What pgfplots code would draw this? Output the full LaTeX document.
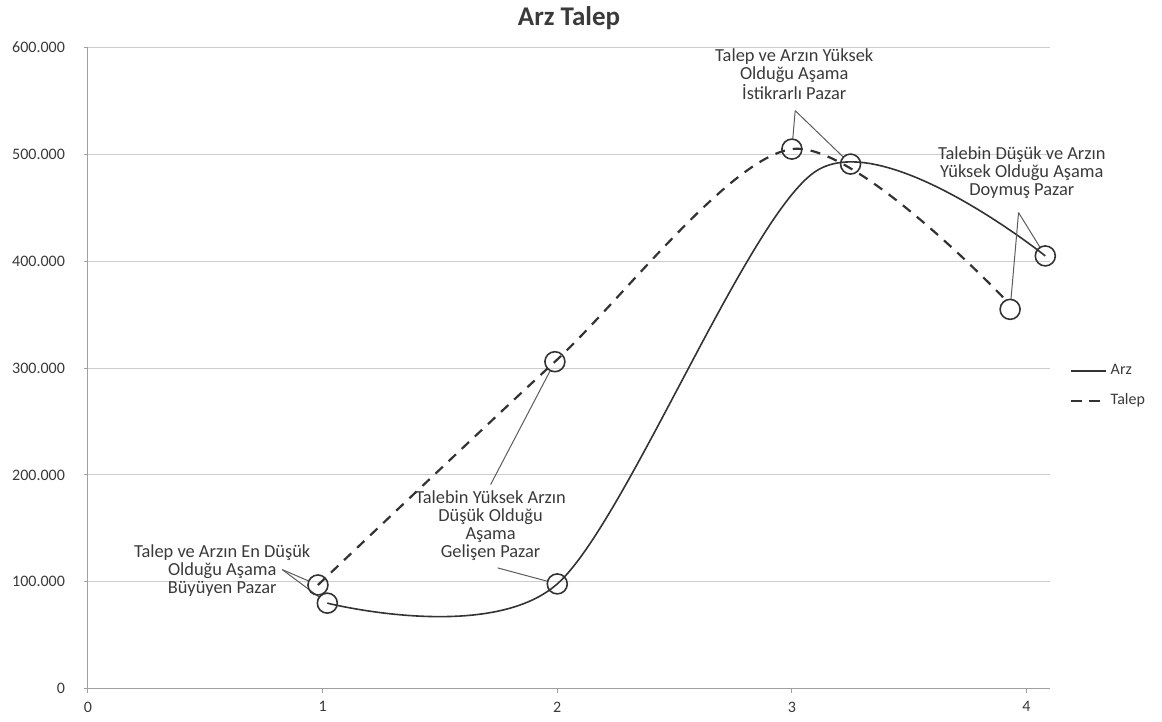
\documentclass[border=0pt]{standalone}
\usepackage{pgfplots}
\pgfplotsset{compat=1.18}
\usepackage{pgfplotstable}
\usepackage{fontspec}
\setmainfont{Carlito}
\definecolor{txt}{HTML}{3A3A3A}
\definecolor{gridc}{HTML}{CDCDCD}
\definecolor{axc}{HTML}{A0A0A0}
\definecolor{ln}{HTML}{333333}

% series lines
\pgfplotstableread{
x y
1.02 80000
2.00 98000
3.10 484000
4.08 405000
}\arz
\pgfplotstableread{
x y
0.98 97000
1.99 306000
3.00 505000
3.91 364000
}\talep
% annotation circles
\pgfplotstableread{
x y
1.02 80000
2.00 98000
3.25 491000
4.08 405000
}\arzcirc
\pgfplotstableread{
x y
0.98 97000
1.99 306000
3.00 505000
3.93 355000
}\talepcirc

\begin{document}
\begin{tikzpicture}
\begin{axis}[
  width=481pt, height=320.5pt, scale only axis,
  xmin=0, xmax=4.1, ymin=0, ymax=600000,
  xtick={0,1,2,3,4},
  ytick={0,100000,200000,300000,400000,500000,600000},
  scaled y ticks=false,
  /pgf/number format/.cd, fixed, 1000 sep={.}, assume math mode=true, /pgfplots/.cd,
  ymajorgrids, grid style={gridc, line width=0.5pt},
  axis line style={draw=none},
  xtick pos=bottom, ytick pos=left, tick align=outside,
  major tick length=2pt, major tick style={axc, line width=0.5pt},
  tick label style={font=\fontsize{8}{9.6}\selectfont, text=txt},
  yticklabel style={xshift=-6pt},
  xticklabel style={yshift=-1pt},
  clip=false,
  legend style={at={(rel axis cs:1,0.472)}, anchor=west, xshift=7pt, draw=none, fill=none,
    font=\fontsize{8}{9}\selectfont, text=txt, row sep=4pt},
  legend cell align=left,
]
\coordinate (bl) at (rel axis cs:0,0);
\draw[axc, line width=0.5pt] (rel axis cs:0,0) -- (rel axis cs:0,1);
\draw[axc, line width=0.5pt] (rel axis cs:0,0) -- (rel axis cs:1,0);

\addplot[ln, line width=0.8pt, smooth, tension=0.5] table[x=x,y=y] {\arz};
\addlegendentry{Arz}
\addplot[ln, line width=1.1pt, dash pattern=on 5pt off 4pt, smooth, tension=0.5] table[x=x,y=y] {\talep};
\addlegendentry{Talep}
\addplot[ln, only marks, mark=o, mark size=5pt, mark options={line width=0.8pt, solid}, forget plot] table[x=x,y=y] {\arzcirc};
\addplot[ln, only marks, mark=o, mark size=5pt, mark options={line width=0.8pt, solid}, forget plot] table[x=x,y=y] {\talepcirc};

\node[anchor=base, font=\fontsize{13.5}{16}\selectfont\bfseries, text=txt] at (rel axis cs:0.5,1) [yshift=11pt] {Arz Talep};

\tikzset{ann/.style={align=center, font=\fontsize{9.2}{9}\selectfont, text=txt}}
\node[ann] at (axis cs:0.572,110600) {Talep ve Arzın En Düşük\\Olduğu Aşama\\Büyüyen Pazar};
\node[ann] at (axis cs:1.716,153000) {Talebin Yüksek Arzın\\Düşük Olduğu\\Aşama\\Gelişen Pazar};
\node[ann] at (axis cs:3.01,575500) {Talep ve Arzın Yüksek\\Olduğu Aşama\\İstikrarlı Pazar};
\node[ann] at (axis cs:3.98,482500) {Talebin Düşük ve Arzın\\Yüksek Olduğu Aşama\\Doymuş Pazar};

\tikzset{call/.style={ln!80, line width=0.5pt, shorten >=5pt}}
\draw[call] (axis cs:0.828,111400) -- (axis cs:0.98,97000);
\draw[call] (axis cs:0.828,111400) -- (axis cs:1.02,80000);
\draw[call] (axis cs:1.716,191000) -- (axis cs:1.99,306000);
\draw[call] (axis cs:1.746,113000) -- (axis cs:2.00,98000);
\draw[call] (axis cs:3.014,541000) -- (axis cs:3.00,505000);
\draw[call] (axis cs:3.014,541000) -- (axis cs:3.25,491000);
\draw[call] (axis cs:3.966,445600) -- (axis cs:3.93,355000);
\draw[call] (axis cs:3.966,445600) -- (axis cs:4.08,405000);
\end{axis}
\path (bl) ++(-44pt,-16.5pt) rectangle ++(581pt,358.5pt);
\end{tikzpicture}
\end{document}
